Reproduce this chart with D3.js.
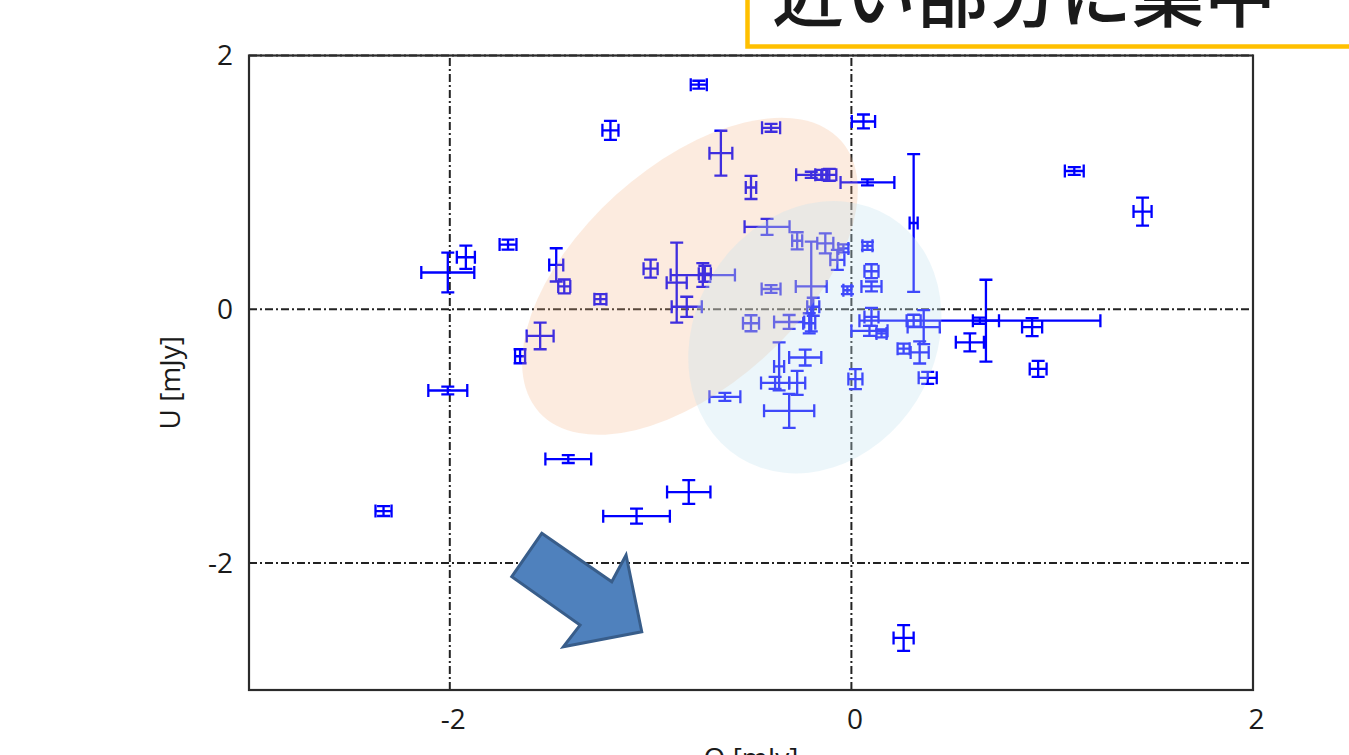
<!DOCTYPE html>
<html>
<head>
<meta charset="utf-8">
<script src="https://cdn.jsdelivr.net/npm/d3@7"></script>
<style>
  body { margin: 0; background: #fff; }
  text { font-family: "Open Sans", "Noto Sans", sans-serif; fill: #1a1a1a; }
</style>
</head>
<body>
<div id="chart"></div>
<script>
// Stokes Q / U with errors, mJy
const qVals = [-0.76, -1.20, -0.40, -0.65, -0.50, -0.20, -0.11, -0.15, 0.08, 0.06, 0.31, 1.11, 1.45,
  -2.01, -1.92, -1.71, -1.47, -1.43, -1.25, -1.00, -0.87, -0.82, -0.74, -0.73, -0.50, -0.42, -0.27,
  -0.13, -0.04, -0.07, 0.08, 0.10, 0.10, -0.02, -0.20, -0.40, -0.19, -0.31, -0.21, -0.36, -0.31,
  -0.63, -0.23, -0.27, -0.38, 0.02, 0.67, 0.64, 0.90, 0.59, 0.93, 0.36, 0.31, 0.26, 0.34, 0.38,
  0.10, 0.09, 0.15, -1.55, -1.65, -1.41, -0.81, -1.07, -2.33, -2.01, 0.26];
const uVals = [1.77, 1.41, 1.43, 1.23, 0.96, 1.06, 1.06, 1.06, 1.00, 1.48, 0.68, 1.09, 0.77,
  0.29, 0.41, 0.51, 0.35, 0.18, 0.08, 0.32, 0.21, 0.02, 0.27, 0.28, -0.11, 0.65, 0.54,
  0.52, 0.48, 0.39, 0.50, 0.30, 0.18, 0.15, 0.18, 0.16, 0.02, -0.10, -0.11, -0.45, -0.80,
  -0.69, -0.38, -0.58, -0.58, -0.55, -0.09, -0.09, -0.14, -0.26, -0.47, -0.14, -0.09, -0.31, -0.34, -0.54,
  -0.06, -0.17, -0.19, -0.21, -0.37, -1.18, -1.44, -1.63, -1.59, -0.64, -2.59];
const qErr = [0.04, 0.04, 0.045, 0.057, 0.026, 0.075, 0.035, 0.03, 0.134, 0.058, 0.02, 0.047, 0.045,
  0.132, 0.045, 0.042, 0.035, 0.03, 0.03, 0.035, 0.05, 0.075, 0.16, 0.03, 0.04, 0.112, 0.025,
  0.04, 0.025, 0.035, 0.025, 0.035, 0.05, 0.02, 0.077, 0.047, 0.03, 0.075, 0.03, 0.025, 0.125,
  0.077, 0.08, 0.04, 0.07, 0.035, 0.065, 0.60, 0.05, 0.07, 0.042, 0.08, 0.035, 0.03, 0.045, 0.045,
  0.035, 0.09, 0.025, 0.067, 0.025, 0.114, 0.108, 0.166, 0.04, 0.097, 0.05];
const uErr = [0.031, 0.075, 0.031, 0.177, 0.091, 0.024, 0.047, 0.039, 0.024, 0.055, 0.543, 0.031, 0.11,
  0.157, 0.091, 0.039, 0.131, 0.055, 0.039, 0.071, 0.315, 0.079, 0.094, 0.063, 0.063, 0.063, 0.067,
  0.079, 0.031, 0.079, 0.031, 0.055, 0.039, 0.031, 0.354, 0.031, 0.071, 0.055, 0.079, 0.189, 0.134,
  0.031, 0.063, 0.094, 0.047, 0.079, 0.323, 0.024, 0.071, 0.071, 0.063, 0.134, 0.047, 0.039, 0.087, 0.047,
  0.071, 0.039, 0.031, 0.105, 0.055, 0.031, 0.094, 0.059, 0.039, 0.031, 0.102];

const xTicks = [-2, 0, 2];
const yTicks = [2, 0, -2];
const xTitle = "Q [mJy]";
const yTitle = "U [mJy]";
const calloutText = "近い部分に集中";

const W = 1349, H = 755;
const svg = d3.select("#chart").append("svg")
  .attr("width", W).attr("height", H)
  .style("display", "block");

const x = d3.scaleLinear().domain([-3, 2]).range([249, 1253]);
const y = d3.scaleLinear().domain([-3, 2]).range([690, 55.5]);

// grid
const dash = "8,3,2,3";
svg.append("g").selectAll("line").data(xTicks).join("line")
  .attr("x1", d => x(d)).attr("x2", d => x(d))
  .attr("y1", y(-3)).attr("y2", y(2))
  .attr("stroke", "#222").attr("stroke-width", 2).attr("stroke-dasharray", dash);
svg.append("g").selectAll("line").data(yTicks).join("line")
  .attr("y1", d => y(d)).attr("y2", d => y(d))
  .attr("x1", x(-3)).attr("x2", x(2))
  .attr("stroke", "#222").attr("stroke-width", 2).attr("stroke-dasharray", dash);

// error bars
const cap = 6.5;
const pts = qVals.map((q, i) => ({q, u: uVals[i], dq: qErr[i], du: uErr[i]}));
const eb = svg.append("g").attr("stroke", "#0000ff").attr("stroke-width", 2.3).attr("fill", "none");
pts.forEach(p => {
  const cx = x(p.q), cy = y(p.u);
  const x0 = x(p.q - p.dq), x1 = x(p.q + p.dq);
  const y0 = y(p.u + p.du), y1 = y(p.u - p.du);
  const path = d3.path();
  path.moveTo(x0, cy); path.lineTo(x1, cy);
  path.moveTo(cx, y0); path.lineTo(cx, y1);
  path.moveTo(x0, cy - cap); path.lineTo(x0, cy + cap);
  path.moveTo(x1, cy - cap); path.lineTo(x1, cy + cap);
  path.moveTo(cx - cap, y0); path.lineTo(cx + cap, y0);
  path.moveTo(cx - cap, y1); path.lineTo(cx + cap, y1);
  eb.append("path").attr("d", path.toString());
});

// translucent highlight ellipses drawn over the points
const blobs = [
  {q: -0.804, u: 0.26, rx: 203, ry: 110, rot: -42, fill: "#f4b183", op: 0.26},
  {q: -0.182, u: -0.22, rx: 142, ry: 120, rot: -58, fill: "#c5e3ee", op: 0.32}
];
svg.append("g").selectAll("ellipse").data(blobs).join("ellipse")
  .attr("transform", d => `translate(${x(d.q)},${y(d.u)}) rotate(${d.rot})`)
  .attr("rx", d => d.rx).attr("ry", d => d.ry)
  .attr("fill", d => d.fill).attr("fill-opacity", d => d.op);

// frame
svg.append("rect")
  .attr("x", x(-3)).attr("y", y(2))
  .attr("width", x(2) - x(-3)).attr("height", y(-3) - y(2))
  .attr("fill", "none").attr("stroke", "#2b2b2b").attr("stroke-width", 2.2);

// tick labels
const gx = svg.append("g").attr("transform", `translate(3,${y(-3)})`)
  .call(d3.axisBottom(x).tickValues(xTicks).tickSize(0).tickPadding(19).tickFormat(d3.format("d")));
const gy = svg.append("g").attr("transform", `translate(${x(-3)},0)`)
  .call(d3.axisLeft(y).tickValues(yTicks).tickSize(0).tickPadding(16).tickFormat(d3.format("d")));
[gx, gy].forEach(g => {
  g.select(".domain").remove();
  g.selectAll("text").style("font-family", "'Open Sans', sans-serif")
    .style("font-size", "28px").attr("fill", "#1a1a1a");
});
gx.selectAll("text").text(d => d < 0 ? "-" + Math.abs(d) : d);
gy.selectAll("text").text(d => d < 0 ? "-" + Math.abs(d) : d);

svg.append("text")
  .attr("transform", `translate(170,${(y(2) + y(-3)) / 2 + 10}) rotate(-90)`)
  .attr("text-anchor", "middle").attr("dy", "0.35em")
  .style("font-size", "28px").text(yTitle);
svg.append("text")
  .attr("x", (x(-3) + x(2)) / 2).attr("y", 768)
  .attr("text-anchor", "middle")
  .style("font-size", "28px").text(xTitle);

// block arrow pointing toward the lower right
const tipQ = -1.044, tipU = -2.541;
const arrowShape = [[-100, -98.4], [-30, -50], [-15.7, -76.7], [0, 0], [-78.4, 15], [-61.7, -6.7], [-130, -55]];
svg.append("path")
  .attr("transform", `translate(${x(tipQ)},${y(tipU)})`)
  .attr("d", d3.line()(arrowShape) + "Z")
  .attr("fill", "#4f81bd").attr("stroke", "#385d8a").attr("stroke-width", 3)
  .attr("stroke-linejoin", "miter");

// callout box, cut by the top of the frame
svg.append("rect")
  .attr("x", 747.5).attr("y", -20).attr("width", 700).attr("height", 66.5)
  .attr("fill", "#fff").attr("stroke", "#ffc000").attr("stroke-width", 4.5);
svg.append("text")
  .attr("x", 772).attr("y", 21)
  .style("font-family", "'Noto Sans CJK JP', sans-serif")
  .style("font-size", "72px").style("font-weight", 500)
  .attr("fill", "#000").text(calloutText);
</script>
</body>
</html>
